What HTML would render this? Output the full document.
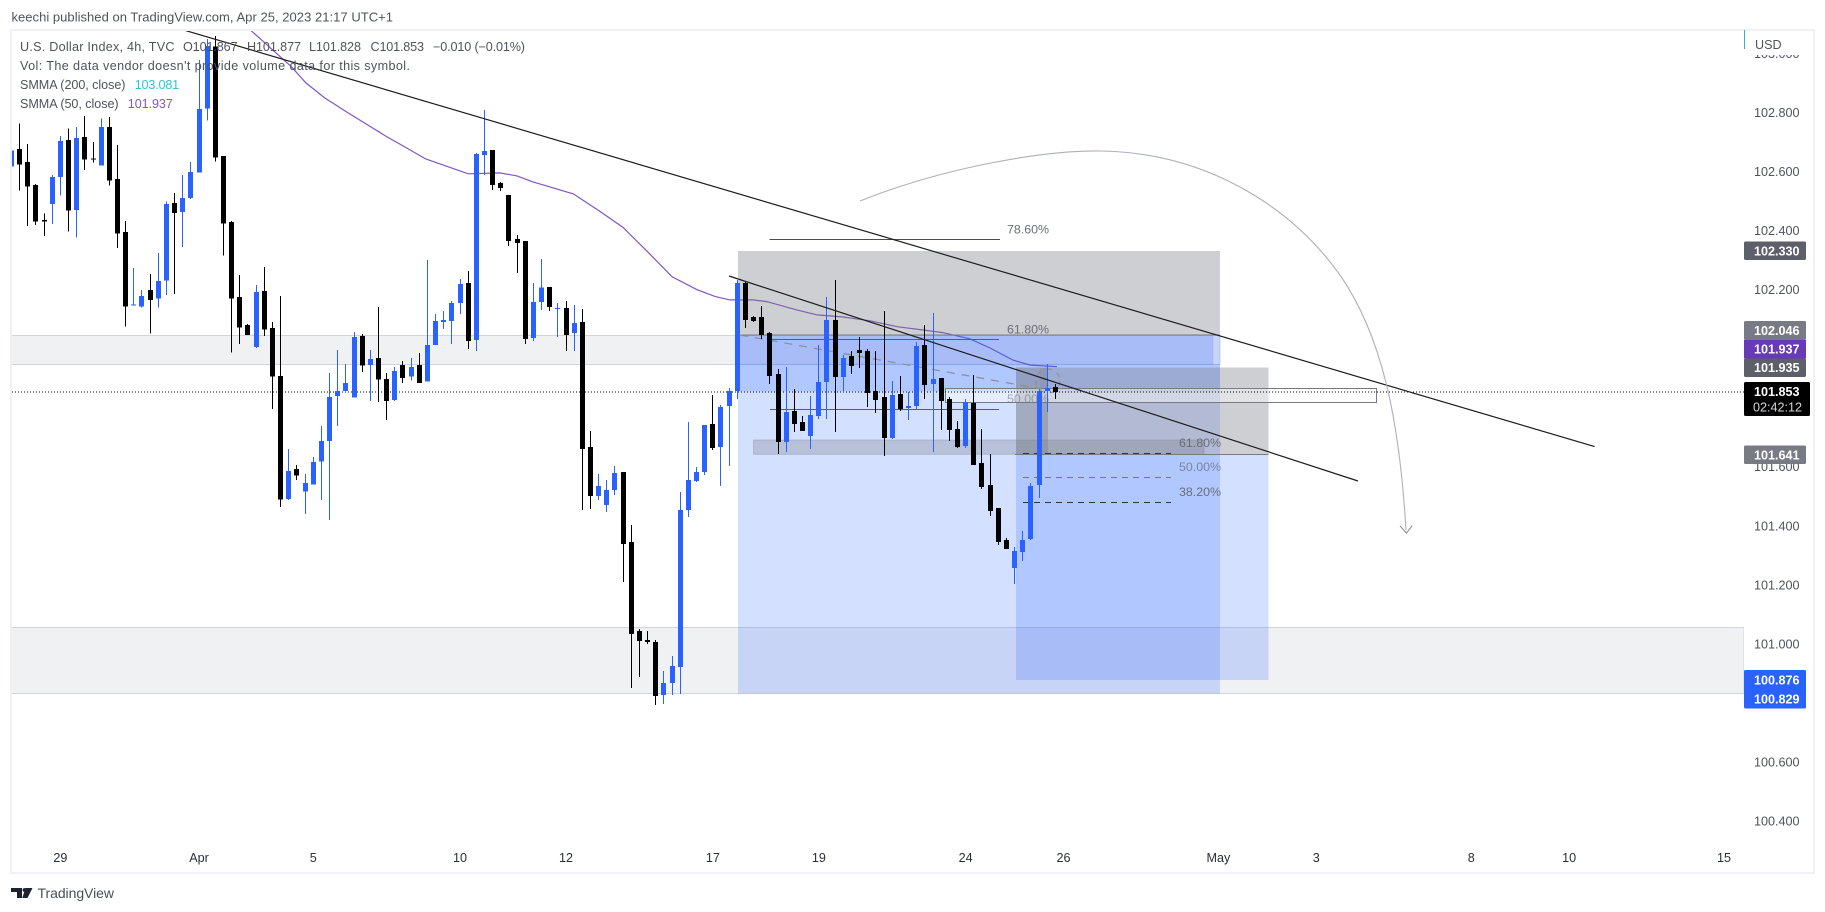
<!DOCTYPE html>
<html lang="en">
<head>
<meta charset="utf-8">
<title>U.S. Dollar Index, 4h chart</title>
<style>
html,body{margin:0;padding:0;background:#fff;width:1825px;height:912px;overflow:hidden}
svg{display:block}
text{font-family:"Liberation Sans",sans-serif}
.lg{font-size:12.6px;fill:#50535e}
.px{font-size:12.6px;fill:#50535e}
.tag{font-size:12.6px;fill:#fff;font-weight:700}
.xl{font-size:12.6px;fill:#2a2e39;text-anchor:middle}
.fib{font-size:12.4px;fill:#6a6d78}
</style>
</head>
<body>
<svg id="chart" xmlns="http://www.w3.org/2000/svg" width="1825" height="912" viewBox="0 0 1825 912">
  <defs>
    <clipPath id="plot-clip"><rect x="12" y="31" width="1732" height="841"/></clipPath>
    <clipPath id="axis-clip"><rect x="1745" y="55" width="68" height="817"/></clipPath>
  </defs>
  <rect x="0" y="0" width="1825" height="912" fill="#ffffff"/>
  <text x="11.5" y="21.5" font-size="13" fill="#50535e" textLength="381.5" lengthAdjust="spacing">keechi published on TradingView.com, Apr 25, 2023 21:17 UTC+1</text>
  <rect x="11" y="30" width="1803" height="843" fill="#ffffff" stroke="#f0f0f6" stroke-width="2"/>

  <g clip-path="url(#plot-clip)">
    <g>
      <rect x="11" y="335.5" width="1209" height="29" fill="#f0f1f3" stroke="#d1d4dc"/>
      <rect x="11" y="627.5" width="1733" height="66" fill="#f0f1f3" stroke="#d1d4dc"/>
    </g>
    <g id="smma-layer"></g>
    <g>
      <rect x="738" y="251" width="482" height="84" fill="#787b86" fill-opacity=".36"/>
      <rect x="738" y="335" width="482" height="358.5" fill="#2962ff" fill-opacity=".2"/>
      <rect x="738" y="335" width="475" height="29.3" fill="#2962ff" fill-opacity=".2" stroke="#2962ff" stroke-opacity=".12"/>
      <rect x="738" y="364.3" width="482" height="27" fill="#2962ff" fill-opacity=".2"/>
      <rect x="1016" y="367.5" width="252.5" height="86.8" fill="#787b86" fill-opacity=".36"/>
      <rect x="1016" y="454.3" width="252.5" height="225.7" fill="#2962ff" fill-opacity=".2"/>
      <rect x="1016" y="367.5" width="32" height="86.8" fill="#787b86" fill-opacity=".25"/>
      <rect x="1040" y="367.5" width="8" height="86.8" fill="#787b86" fill-opacity=".18"/>
      <rect x="753.5" y="440" width="450.5" height="14.3" fill="#787b86" fill-opacity=".3" stroke="#787b86" stroke-opacity=".3"/>
      <rect x="945.5" y="388.5" width="431" height="14" fill="#ffffff" fill-opacity=".42" stroke="#787b86"/>
      <line x1="738" y1="335" x2="1220" y2="335" stroke="#787b86"/>
      <line x1="1015" y1="454.5" x2="1268.5" y2="454.5" stroke="#787b86"/>
    </g>
    <g>
      <line x1="769.5" y1="239.5" x2="1000" y2="239.5" stroke="#4a4c55"/>
      <line x1="770" y1="339.5" x2="999" y2="339.5" stroke="#5a5d68"/>
      <line x1="770" y1="409.5" x2="999" y2="409.5" stroke="#5a5d68"/>
      <line x1="1023" y1="453.5" x2="1171" y2="453.5" stroke="#333" stroke-dasharray="6 5"/>
      <line x1="1023" y1="477.5" x2="1171" y2="477.5" stroke="#777" stroke-dasharray="6 5"/>
      <line x1="1023" y1="502.5" x2="1171" y2="502.5" stroke="#333" stroke-dasharray="6 5"/>
      <line x1="740" y1="335" x2="1042" y2="389" stroke="#8b8d96" stroke-width="1.2" stroke-dasharray="8 7"/>
      <circle cx="1048" cy="381" r="12" fill="none" stroke="#8b8d96" stroke-dasharray="5 6"/>
    </g>
    <g>
      <text class="fib" x="1007" y="233.5">78.60%</text>
      <text class="fib" x="1007" y="333.5">61.80%</text>
      <text class="fib" x="1007" y="403" fill-opacity=".55">50.00%</text>
      <text class="fib" x="1179" y="447">61.80%</text>
      <text class="fib" x="1179" y="471" fill-opacity=".75">50.00%</text>
      <text class="fib" x="1179" y="496">38.20%</text>
    </g>
    <line x1="12" y1="392" x2="1744" y2="392" stroke="#000" stroke-dasharray="1 2"/>
    <g id="candle-layer" shape-rendering="crispEdges"></g>
    <line x1="183.7" y1="30" x2="1594.6" y2="446.6" stroke="#1c1c1c" stroke-width="1.2"/>
    <line x1="729" y1="276" x2="1358" y2="481" stroke="#1c1c1c" stroke-width="1.2"/>
    <path d="M860 201C945 167 1045 150 1102 151C1205 153 1290 205 1340 275C1385 340 1400 430 1406 530" fill="none" stroke="#adb0b8" stroke-width="1.1"/>
    <path d="M1400 526L1406.5 533L1412 526" fill="none" stroke="#8f929b" stroke-width="1.1"/>
  </g>

  <g>
    <text class="lg" x="20" y="51" textLength="154.5" lengthAdjust="spacing">U.S. Dollar Index, 4h, TVC</text>
    <text class="lg" x="183" y="51" textLength="54.6" lengthAdjust="spacing">O101.867</text>
    <text class="lg" x="247" y="51" textLength="54" lengthAdjust="spacing">H101.877</text>
    <text class="lg" x="309" y="51" textLength="52" lengthAdjust="spacing">L101.828</text>
    <text class="lg" x="370.5" y="51" textLength="53.5" lengthAdjust="spacing">C101.853</text>
    <text class="lg" x="433" y="51" textLength="92" lengthAdjust="spacing">−0.010 (−0.01%)</text>
    <text class="lg" x="20" y="70" textLength="390" lengthAdjust="spacing">Vol: The data vendor doesn't provide volume data for this symbol.</text>
    <text class="lg" x="20" y="89" textLength="105.5" lengthAdjust="spacing">SMMA (200, close)</text>
    <text class="lg" x="134.7" y="89" style="fill:#2fc4d6" textLength="44.5" lengthAdjust="spacing">103.081</text>
    <text class="lg" x="20" y="108" textLength="98.6" lengthAdjust="spacing">SMMA (50, close)</text>
    <text class="lg" x="127.8" y="108" style="fill:#7e57c2" textLength="45" lengthAdjust="spacing">101.937</text>
  </g>

  <line x1="1744.5" y1="30" x2="1744.5" y2="49" stroke="#2ab7c4"/>
  <text class="px" x="1755" y="49">USD</text>
  <g id="y-axis" clip-path="url(#axis-clip)"></g>
  <g id="x-axis"></g>

  <g>
    <g><rect x="1744" y="241.5" width="62" height="18.5" rx="1.5" fill="#5d606b"/><text class="tag" x="1754" y="255.5">102.330</text></g>
    <g><rect x="1744" y="321" width="62" height="19" rx="1.5" fill="#787b86"/><text class="tag" x="1754" y="335">102.046</text></g>
    <g><rect x="1744" y="340" width="62" height="18.5" fill="#673ab7"/><text class="tag" x="1754" y="353.5">101.937</text></g>
    <g><rect x="1744" y="358.5" width="62" height="18.5" rx="1.5" fill="#5d606b"/><text class="tag" x="1754" y="372">101.935</text></g>
    <g><rect x="1744" y="382" width="66" height="34" rx="1.5" fill="#000"/><text class="tag" x="1754" y="396">101.853</text><text class="tag" x="1753" y="411.5" style="font-weight:400;fill:#d5d6da">02:42:12</text></g>
    <g><rect x="1744" y="445.5" width="62" height="18.5" rx="1.5" fill="#787b86"/><text class="tag" x="1754" y="459.5">101.641</text></g>
    <g><rect x="1744" y="670" width="62" height="38.5" rx="1.5" fill="#2962ff"/><text class="tag" x="1754" y="684.5">100.876</text><text class="tag" x="1754" y="703.5">100.829</text></g>
  </g>

  <g>
    <path d="M11 888h11v10h-5v-6h-6zM25.5 888h7l-5 10h-5.2z" fill="#1e222d"/>
    <circle cx="24.5" cy="890" r="1.9" fill="#1e222d"/>
    <text x="37.5" y="898" font-size="14" fill="#4a4e59" textLength="76.5" lengthAdjust="spacing">TradingView</text>
  </g>
</svg>

<script>
const opens = [102.616,102.676,102.632,102.554,102.435,102.490,102.582,102.707,102.470,102.717,102.644,102.620,102.751,102.575,102.395,102.146,102.142,102.199,102.169,102.230,102.493,102.463,102.510,102.596,102.813,103.023,102.653,102.429,102.175,102.080,102.005,102.195,102.070,101.907,101.490,101.592,101.515,101.539,101.617,101.687,101.840,101.857,101.834,102.043,101.945,101.968,101.897,101.826,101.944,101.905,101.944,101.888,102.012,102.090,102.094,102.155,102.222,102.029,102.656,102.673,102.561,102.520,102.371,102.364,102.036,102.158,102.209,102.134,102.138,102.053,102.090,101.667,101.501,101.470,101.521,101.582,101.345,101.043,101.012,101.006,100.827,100.867,100.921,101.453,101.551,101.582,101.745,101.667,101.806,101.856,102.222,102.107,102.107,102.053,101.914,101.684,101.789,101.751,101.704,101.772,101.887,102.097,101.904,101.975,101.995,101.992,101.856,101.836,101.697,101.846,101.799,101.806,102.012,101.880,101.900,101.829,101.728,101.670,101.816,101.613,101.538,101.460,101.352,101.257,101.311,101.355,101.538,101.856,101.870];
const highs = [102.687,102.763,102.693,102.558,102.458,102.588,102.720,102.746,102.751,102.787,102.699,102.779,102.785,102.690,102.432,102.273,102.199,102.253,102.324,102.498,102.527,102.588,102.632,102.978,103.048,103.059,102.653,102.432,102.249,102.083,102.216,102.277,102.090,102.178,101.660,101.606,101.575,101.633,101.738,101.917,101.995,101.948,102.056,102.050,101.995,102.141,101.917,101.938,101.958,101.968,101.985,102.300,102.117,102.127,102.161,102.236,102.263,102.663,102.808,102.673,102.565,102.520,102.385,102.364,102.222,102.304,102.209,102.155,102.161,102.148,102.134,101.721,101.575,101.555,101.602,101.582,101.402,101.050,101.043,101.012,100.908,100.959,101.514,101.751,101.599,101.741,101.843,101.809,101.867,102.233,102.226,102.110,102.144,102.056,101.931,101.938,101.863,101.772,101.840,102.012,102.175,102.233,101.978,101.992,102.039,101.999,101.992,102.127,101.890,101.907,101.853,102.023,102.080,102.121,101.900,101.836,101.755,101.829,101.911,101.728,101.643,101.460,101.359,101.328,101.382,101.545,101.863,101.948,101.880];
const lows = [102.575,102.535,102.416,102.419,102.382,102.422,102.518,102.396,102.376,102.605,102.630,102.620,102.552,102.341,102.074,102.146,102.139,102.051,102.139,102.182,102.185,102.344,102.507,102.596,102.772,102.633,102.315,101.986,102.016,102.046,102.002,102.043,101.796,101.464,101.487,101.555,101.440,101.539,101.487,101.419,101.738,101.857,101.834,101.921,101.822,101.819,101.758,101.822,101.884,101.891,101.884,101.888,102.012,102.066,102.016,102.117,101.999,101.992,102.588,102.537,102.534,102.347,102.256,102.016,102.026,102.131,102.127,102.039,101.992,101.992,101.453,101.457,101.487,101.446,101.504,101.209,100.850,100.887,100.999,100.793,100.796,100.827,100.830,101.429,101.548,101.572,101.657,101.535,101.602,101.829,102.070,102.090,102.033,101.880,101.643,101.650,101.718,101.721,101.660,101.762,101.762,101.718,101.856,101.914,101.934,101.802,101.782,101.636,101.694,101.789,101.758,101.796,101.829,101.650,101.724,101.687,101.663,101.663,101.606,101.524,101.433,101.335,101.321,101.202,101.281,101.352,101.494,101.785,101.829];
const closes = [102.671,102.623,102.549,102.430,102.431,102.581,102.703,102.467,102.714,102.640,102.641,102.751,102.569,102.389,102.142,102.149,102.178,102.165,102.229,102.490,102.460,102.510,102.598,102.812,103.025,102.647,102.423,102.169,102.071,102.046,102.192,102.064,101.905,101.488,101.585,101.570,101.545,101.616,101.687,101.836,101.857,101.884,102.039,101.942,101.965,101.895,101.823,101.924,101.901,101.938,101.884,102.012,102.094,102.097,102.155,102.219,102.026,102.659,102.670,102.554,102.544,102.364,102.358,102.033,102.158,102.206,102.141,102.137,102.046,102.087,101.660,101.501,101.535,101.521,101.579,101.338,101.033,101.009,101.006,100.823,100.867,100.925,101.453,101.555,101.582,101.741,101.663,101.802,101.856,102.222,102.097,102.094,102.046,101.907,101.684,101.785,101.745,101.721,101.775,101.887,102.097,101.904,101.968,101.941,101.985,101.850,101.826,101.697,101.843,101.796,101.806,102.009,101.877,101.897,101.822,101.724,101.667,101.819,101.606,101.531,101.450,101.345,101.321,101.314,101.352,101.535,101.856,101.867,101.853];

const smmaBars = [29.3,34.3,36.1,38.4,41,46,47.6,50.8,56,59.9,62,63.9,68.9,72.2,75,78.1,81,84.1,86.3,88.1,90.9,92.6,96.3,98.8,102,105.3,108.6,111.8,114.2,117.5,120,122.8,124.9,128.2];
const smmaPrices = [103.079,102.955,102.900,102.849,102.803,102.718,102.693,102.642,102.592,102.595,102.585,102.565,102.524,102.464,102.410,102.325,102.243,102.199,102.176,102.165,102.165,102.159,102.131,102.114,102.107,102.094,102.074,102.063,102.054,102.033,102.002,101.961,101.944,101.939];

const priceTicks = [103.0,102.8,102.6,102.4,102.2,102.0,101.8,101.6,101.4,101.2,101.0,100.6,100.4];
const priceTickLabels = ["103.000","102.800","102.600","102.400","102.200","102.000","101.800","101.600","101.400","101.200","101.000","100.600","100.400"];
const timeTickBars = [6,23,37,55,68,86,99,117,129,148,160,179,191,210];
const timeTickLabels = ["29","Apr","5","10","12","17","19","24","26","May","3","8","10","15"];

const SVG_NS = "http://www.w3.org/2000/svg";
function xOf(bar){ return 11.5 + bar * 8.155; }
function yOf(price){ return 112.4 + (102.8 - price) * 295.2; }

function drawCandles(){
  const layer = document.getElementById("candle-layer");
  opens.forEach(function(open, i){
    const up = closes[i] >= open;
    const color = up ? "#2962ff" : "#000000";
    const cx = Math.floor(xOf(i));
    const g = document.createElementNS(SVG_NS, "g");
    
    
    const wick = document.createElementNS(SVG_NS, "rect");
    
    
    wick.setAttribute("x", cx);
    wick.setAttribute("y", yOf(highs[i]));
    wick.setAttribute("width", 1);
    wick.setAttribute("height", Math.max(1, yOf(lows[i]) - yOf(highs[i])));
    wick.setAttribute("fill", color);
    g.appendChild(wick);
    const body = document.createElementNS(SVG_NS, "rect");
    
    
    const top = yOf(Math.max(open, closes[i]));
    const bottom = yOf(Math.min(open, closes[i]));
    body.setAttribute("x", cx - 2);
    body.setAttribute("y", top);
    body.setAttribute("width", 5);
    body.setAttribute("height", Math.max(1, bottom - top));
    body.setAttribute("fill", color);
    g.appendChild(body);
    layer.appendChild(g);
  });
}

function drawSmma(){
  const layer = document.getElementById("smma-layer");
  const path = document.createElementNS(SVG_NS, "polyline");
  
  
  const pts = smmaBars.map(function(bar, i){
    return xOf(bar).toFixed(1) + "," + yOf(smmaPrices[i]).toFixed(1);
  });
  path.setAttribute("points", pts.join(" "));
  path.setAttribute("fill", "none");
  path.setAttribute("stroke", "#673ab7");
  path.setAttribute("stroke-opacity", "0.85");
  path.setAttribute("stroke-width", "1.2");
  layer.appendChild(path);
}

function drawAxes(){
  const yAxis = document.getElementById("y-axis");
  priceTicks.forEach(function(price, i){
    const t = document.createElementNS(SVG_NS, "text");
    
    
    t.setAttribute("class", "px");
    t.setAttribute("x", 1754);
    t.setAttribute("y", yOf(price) + 4.6);
    t.textContent = priceTickLabels[i];
    yAxis.appendChild(t);
  });
  const xAxis = document.getElementById("x-axis");
  timeTickBars.forEach(function(bar, i){
    const t = document.createElementNS(SVG_NS, "text");
    
    
    t.setAttribute("class", "xl");
    t.setAttribute("x", xOf(bar));
    t.setAttribute("y", 862);
    t.textContent = timeTickLabels[i];
    xAxis.appendChild(t);
  });
}

drawSmma();
drawCandles();
drawAxes();
</script>
</body>
</html>
